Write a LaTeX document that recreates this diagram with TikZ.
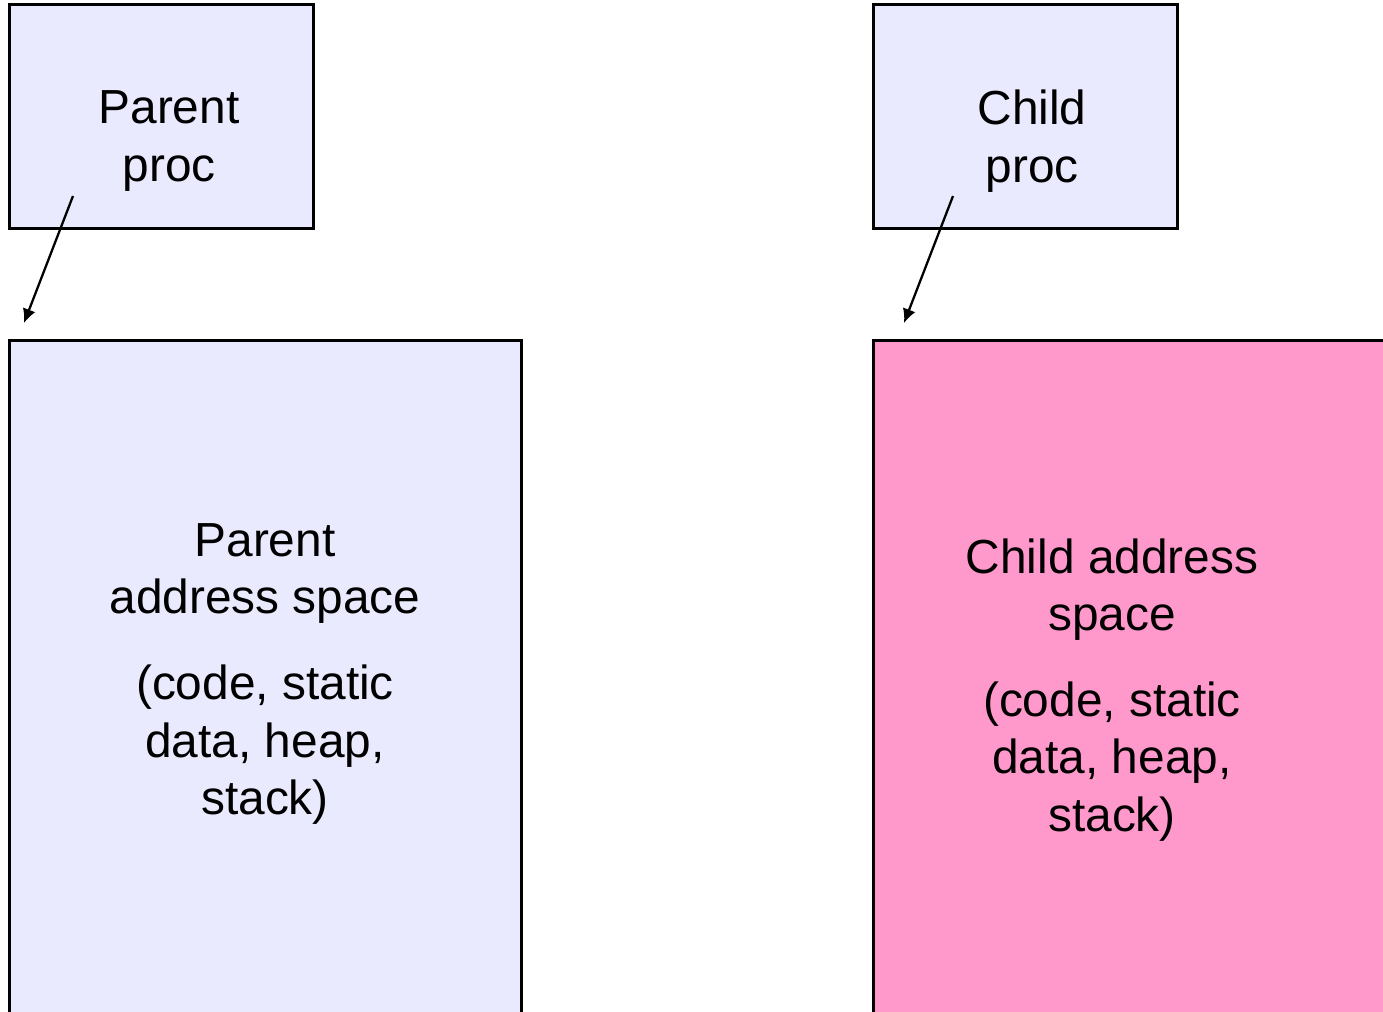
\documentclass[tikz,border=0pt]{standalone}
\usepackage{fontspec}
\setmainfont{Liberation Sans}
\usetikzlibrary{positioning,arrows.meta}
\definecolor{lavender}{RGB}{234,234,255}
\definecolor{pinkspace}{RGB}{255,153,204}

\begin{document}
\begin{tikzpicture}[x=0.01cm,y=-0.01cm,
  box/.style={draw,line width=0.75pt,anchor=north west,inner sep=0pt},
  label/.style={align=center,font=\fontsize{13.6}{16.4}\selectfont},
  pointer/.style={line width=0.65pt,-{Latex[length=4pt,width=3.8pt]}},
  ]
  \clip (0,0) rectangle (1383,1011);

  % processes
  \node[box,fill=lavender,minimum width=3.04cm,minimum height=2.24cm] (pproc) at (8,3) {};
  \node[box,fill=lavender,minimum width=3.04cm,minimum height=2.24cm] (cproc) at (872,3) {};
  \node[label] (ptext) at (169,141) {Parent\\proc};
  \node[label] (ctext) at (1032,141) {Child\\proc};

  % address spaces
  \node[box,fill=lavender,minimum width=5.12cm,minimum height=7.2cm] (pspace) at (8,339) {};
  \node[box,fill=pinkspace,minimum width=5.4cm,minimum height=7.2cm] (cspace) at (872,339) {};
  \node[label] (pspacetext) at (265,674) {Parent\\address space\\[7.9pt](code, static\\data, heap,\\stack)};
  \node[label] (cspacetext) at (1112,690) {Child address\\space\\[7.9pt](code, static\\data, heap,\\stack)};

  % pointers
  \coordinate (pfrom) at (73,196);
  \coordinate (pto) at (24,323);
  \coordinate (cfrom) at (953,196);
  \coordinate (cto) at (904,323);
  \draw[pointer] (pfrom) -- (pto);
  \draw[pointer] (cfrom) -- (cto);
\end{tikzpicture}
\end{document}
